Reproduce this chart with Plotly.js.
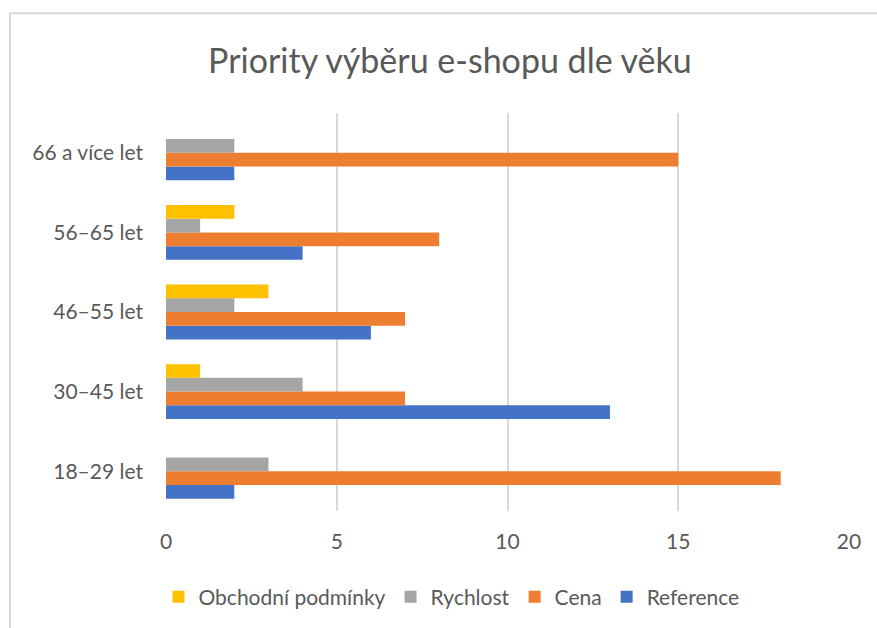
<!DOCTYPE html>
<html>
<head>
<meta charset="utf-8">
<script src="https://cdn.plot.ly/plotly-3.0.1.min.js"></script>
<style>html,body{margin:0;padding:0;background:#fff;}#chart{width:877px;height:628px;}</style>
</head>
<body>
<div id="chart"></div>
<script>
const categories = ["18–29 let", "30–45 let", "46–55 let", "56–65 let", "66 a více let"];
const reference = [2, 13, 6, 4, 2];
const cena = [18, 7, 7, 8, 15];
const rychlost = [3, 4, 2, 1, 2];
const obchodni = [0, 1, 3, 2, 0];
const xTicks = [0, 5, 10, 15, 20];

const FONT = "Lato, 'Open Sans', sans-serif";
const mk = (name, vals, color) => ({
  type: 'bar', orientation: 'h', name: name, x: vals, y: categories,
  marker: {color: color}, hoverinfo: 'x+name'
});
const data = [
  mk('Reference', reference, '#4472C4'),
  mk('Cena', cena, '#ED7D31'),
  mk('Rychlost', rychlost, '#A5A5A5'),
  mk('Obchodní podmínky', obchodni, '#FFC000')
];
const layout = {
  width: 877, height: 628,
  margin: {l: 166, r: 28, t: 113, b: 116},
  paper_bgcolor: '#fff', plot_bgcolor: '#fff',
  font: {family: FONT, color: '#595959', size: 21},
  title: {text: 'Priority výběru e-shopu dle věku', font: {size: 34, color: '#595959', family: FONT},
          xref: 'container', x: 0.513, xanchor: 'center', yref: 'container', y: 0.903, yanchor: 'middle'},
  barmode: 'group', bargap: 0.31, bargroupgap: 0,
  xaxis: {range: [0, 20], tickvals: xTicks, ticktext: xTicks.map(String), showgrid: true,
          gridcolor: '#D9D9D9', gridwidth: 2, zeroline: false, showline: false,
          ticks: '', ticklabelstandoff: 16, tickfont: {size: 21, color: '#595959'}, fixedrange: true},
  yaxis: {type: 'category', categoryorder: 'array', categoryarray: categories, showgrid: false,
          zeroline: false, showline: false, ticks: '', ticklabelstandoff: 22,
          tickfont: {size: 21, color: '#595959'}, fixedrange: true},
  showlegend: true,
  legend: {orientation: 'h', traceorder: 'reversed', x: 0.418, xanchor: 'center', y: -0.213, yanchor: 'middle',
           font: {size: 21, color: '#595959'}, itemwidth: 30},
  shapes: [{type: 'rect', xref: 'paper', yref: 'paper', x0: -0.2284, x1: 1.06, y0: -0.35, y1: 1.2506,
            line: {color: '#D9D9D9', width: 2}, fillcolor: 'rgba(0,0,0,0)', layer: 'below'}]
};
Plotly.newPlot('chart', data, layout, {displayModeBar: false, staticPlot: true});
</script>
</body>
</html>
